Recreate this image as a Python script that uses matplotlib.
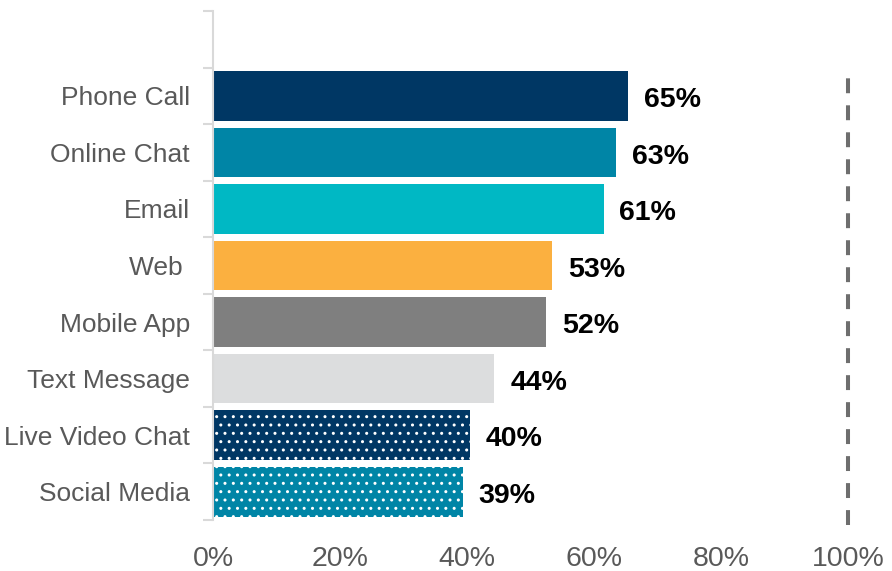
import numpy as np
import matplotlib.pyplot as plt

plt.rcParams["font.family"] = ["Liberation Sans", "DejaVu Sans"]
plt.rcParams["hatch.linewidth"] = 1.0

CATEGORIES = ["Phone Call", "Online Chat", "Email", "Web ", "Mobile App",
              "Text Message", "Live Video Chat", "Social Media"]
VALUES = [65.4, 63.4, 61.5, 53.4, 52.4, 44.3, 40.4, 39.3]
VALUE_LABELS = ["65%", "63%", "61%", "53%", "52%", "44%", "40%", "39%"]
COLORS = ["#003764", "#0085A6", "#00B8C4", "#FBB040", "#7F7F7F",
          "#DCDDDE", "#003764", "#0085A6"]
DOTTED = [False, False, False, False, False, False, True, True]
X_TICKS = [0, 20, 40, 60, 80, 100]
X_TICK_LABELS = ["0%", "20%", "40%", "60%", "80%", "100%"]


def main():
    fig = plt.figure(figsize=(8.92, 5.71), dpi=100)
    ax = fig.add_axes([213 / 892, 1 - 520 / 571, 635 / 892, 509 / 571])

    n = len(CATEGORIES)
    ypos = np.arange(n)[::-1]  # top category highest, empty slot above

    for y, v, c, dot in zip(ypos, VALUES, COLORS, DOTTED):
        if dot:
            ax.barh(y, v, height=0.88, color=c, edgecolor="white",
                    linewidth=0, hatch="..")
        else:
            ax.barh(y, v, height=0.88, color=c, linewidth=0)

    for y, v, lab in zip(ypos, VALUES, VALUE_LABELS):
        ax.annotate(lab, (v, y), xytext=(11.5, -3), textcoords="offset points",
                    ha="left", va="center", fontsize=20.5,
                    fontweight="bold", color="black", annotation_clip=False)

    # 100% reference line
    ax.vlines(100, -0.58, 7.33, colors="#6E6E6E", linewidth=2.9,
              linestyles=(0, (3.7, 3.0)), clip_on=False)

    ax.set_xlim(0, 100)
    ax.set_ylim(-0.5, n + 0.5)

    ax.set_xticks(X_TICKS)
    ax.set_xticklabels(X_TICK_LABELS, fontsize=20.5, color="#595959")
    ax.tick_params(axis="x", length=0, pad=19)

    ax.set_yticks(ypos)
    ax.set_yticklabels(CATEGORIES, fontsize=19, color="#595959")
    ax.tick_params(axis="y", which="major", length=0, pad=16.5)
    ax.set_yticks(np.arange(-0.5, n + 1, 1.0), minor=True)
    ax.tick_params(axis="y", which="minor", length=7, width=1.5,
                   color="#D9D9D9", direction="out")

    for side in ["top", "right", "bottom"]:
        ax.spines[side].set_visible(False)
    ax.spines["left"].set_color("#D9D9D9")
    ax.spines["left"].set_linewidth(1.5)

    fig.savefig("out.png", dpi=100)


if __name__ == "__main__":
    main()
